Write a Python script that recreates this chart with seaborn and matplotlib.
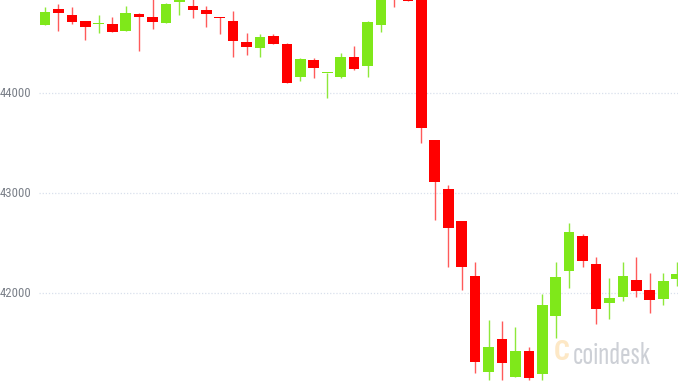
import matplotlib
matplotlib.use("Agg")
import matplotlib.pyplot as plt
import seaborn as sns
import numpy as np

# OHLC values (BTC/USD, candles)
opens = [44683, 44840, 44780, 44726, 44698, 44696, 44623, 44793, 44766, 44700,
         44913, 44873, 44833, 44760, 44723, 44516, 44450, 44573, 44493, 44166,
         44333, 44203, 44166, 44360, 44273, 44683, 45100, 44960, 44950, 43533,
         43043, 42723, 42173, 41216, 41540, 41166, 41423, 41193, 41776, 42226,
         42576, 42290, 41906, 41966, 42133, 42033, 41940, 42143]
closes = [44813, 44806, 44716, 44663, 44708, 44610, 44800, 44766, 44713, 44893,
          45083, 44833, 44793, 44750, 44520, 44466, 44560, 44493, 44106, 44340,
          44250, 44206, 44360, 44240, 44716, 45133, 44980, 44923, 43650, 43110,
          42650, 42266, 41316, 41466, 41300, 41426, 41156, 41883, 42166, 42616,
          42323, 41843, 41956, 42173, 42023, 41933, 42126, 42193]
highs = [44863, 44890, 44866, 44726, 44783, 44760, 44873, 44800, 45033, 44906,
         45100, 44963, 44873, 44760, 44823, 44600, 44593, 44593, 44500, 44350,
         44350, 44206, 44400, 44473, 44726, 45150, 45120, 44970, 44960, 43533,
         43083, 42723, 42316, 41733, 41726, 41666, 41460, 41990, 42316, 42706,
         42590, 42366, 42156, 42316, 42366, 42200, 42206, 42310]
lows = [44680, 44623, 44690, 44533, 44603, 44610, 44623, 44426, 44643, 44700,
        44780, 44750, 44666, 44590, 44366, 44383, 44360, 44493, 44100, 44123,
        44156, 43950, 44150, 44233, 44160, 44616, 44860, 44923, 43500, 42733,
        42266, 42033, 41200, 41133, 41133, 41160, 41133, 41133, 41550, 42050,
        42266, 41690, 41740, 41923, 41960, 41800, 41883, 42073]
tick_values = [42000, 43000, 44000]
tick_labels = ["42000", "43000", "44000"]

sns.set_theme(style="white")
plt.rcParams['font.family'] = ['Roboto Condensed', 'DejaVu Sans']

GREEN = "#7fe81a"
RED = "#ff0000"
GREEN_W = "#8ee83a"
RED_W = "#ff5a5a"

fig = plt.figure(figsize=(6.78, 3.81), dpi=100)
ax = fig.add_axes([0, 0, 1, 1])
ax.set_facecolor("white")

n = len(opens)
x = np.arange(n)
px = 13.44  # pixels per candle
x0 = -45 / px
x1 = (678 - 45) / px
ax.set_xlim(x0, x1)
ax.set_ylim(41123, 44933)

# gridlines and labels
grid_start = (39 - 45) / px
for v, lab in zip(tick_values, tick_labels):
    ax.hlines(v, grid_start, x1, colors="#d9e0ec", linestyles=(0, (1, 1.5)), lw=0.9, zorder=0)
    ax.text(31.5 / 678, v, lab, transform=ax.get_yaxis_transform(),
            ha="right", va="center", fontsize=9.2, color="#7b8089",
            family=['Roboto Condensed', 'DejaVu Sans'])

o = np.array(opens); c = np.array(closes); h = np.array(highs); l = np.array(lows)
up = c >= o
body_col = np.where(up, GREEN, RED)
wick_col = np.where(up, GREEN_W, RED_W)

ax.vlines(x, l, h, colors=wick_col, lw=1.0, zorder=2)
height = c - o
height = np.where(np.abs(height) < 6, np.sign(height + 1e-9) * 6, height)
ax.bar(x, height, bottom=o, width=0.79, color=body_col, edgecolor="none", zorder=3)

# watermark
ax.text(573 / 678, 1 - 364 / 381, "coindesk", transform=ax.transAxes,
        ha="left", va="baseline", fontsize=23, color="#cdd0d6",
        family=['Sofia Sans Extra Condensed', 'Roboto Condensed', 'DejaVu Sans'], zorder=1)
ax.text(562 / 678, 1 - 352 / 381, "C", transform=ax.transAxes,
        ha="center", va="center", fontsize=20, color="#fde8c6", fontweight="bold",
        family=['Roboto Condensed', 'DejaVu Sans'], zorder=1)

for s in ax.spines.values():
    s.set_visible(False)
ax.set_xticks([])
ax.set_yticks([])

fig.savefig("out.png", dpi=100)
